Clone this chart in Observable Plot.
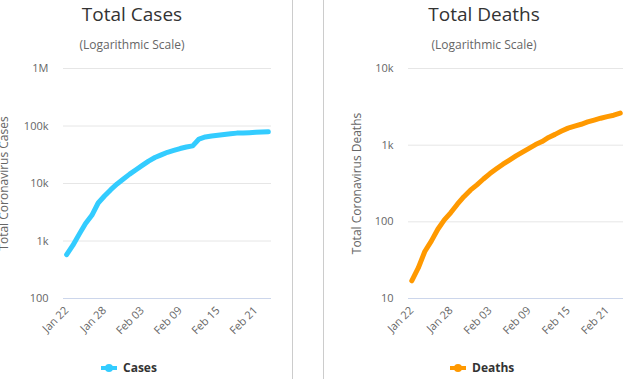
<!DOCTYPE html>
<html>
<head>
<meta charset="utf-8">
<script src="https://cdn.jsdelivr.net/npm/d3@7"></script>
<script src="https://cdn.jsdelivr.net/npm/@observablehq/plot@0.6"></script>
<style>
  html, body { margin: 0; padding: 0; background: #fff; }
  #wrap { position: relative; width: 628px; height: 379px; overflow: hidden; font-family: "Open Sans", "Noto Sans", sans-serif; }
  .panel { position: absolute; top: 0; }
  .title { position: absolute; width: 240px; text-align: center; font-size: 19px; line-height: 1; color: #333; white-space: nowrap; }
  .subtitle { position: absolute; width: 240px; text-align: center; font-size: 12px; line-height: 1; color: #666; white-space: nowrap; }
  .legend { position: absolute; font-size: 12px; font-weight: bold; color: #333; line-height: 1; white-space: nowrap; display: flex; align-items: center; }
  .legend svg { margin-right: 6px; }
  .sep { position: absolute; top: 0; width: 1px; height: 379px; background: #cccccc; }
</style>
</head>
<body>
<div id="wrap">
  <div class="sep" style="left:292px"></div>
  <div class="sep" style="left:323px"></div>
  <div class="title" style="left:12px; top:5px">Total Cases</div>
  <div class="subtitle" style="left:12px; top:39px">(Logarithmic Scale)</div>
  <div class="title" style="left:364px; top:5px">Total Deaths</div>
  <div class="subtitle" style="left:364px; top:39px">(Logarithmic Scale)</div>
  <div id="left" class="panel" style="left:0px"></div>
  <div id="right" class="panel" style="left:323px"></div>
  <div id="legL" class="legend" style="left:101px; top:362px"></div>
  <div id="legR" class="legend" style="left:450px; top:362px"></div>
</div>
<script>
const dates = ["2020-01-22","2020-01-23","2020-01-24","2020-01-25","2020-01-26","2020-01-27","2020-01-28",
  "2020-01-29","2020-01-30","2020-01-31","2020-02-01","2020-02-02","2020-02-03","2020-02-04","2020-02-05",
  "2020-02-06","2020-02-07","2020-02-08","2020-02-09","2020-02-10","2020-02-11","2020-02-12","2020-02-13",
  "2020-02-14","2020-02-15","2020-02-16","2020-02-17","2020-02-18","2020-02-19","2020-02-20","2020-02-21",
  "2020-02-22","2020-02-23"];
const cases = [580, 845, 1317, 2015, 2800, 4581, 6058, 7813, 9821, 11948, 14551, 17389, 20628, 24553, 28276,
  31439, 34876, 37552, 40553, 43099, 45134, 59287, 64438, 67100, 69197, 71329, 73332, 75184, 75700, 76677, 77673,
  78651, 79205];
const deaths = [17, 25, 41, 56, 80, 106, 132, 170, 213, 259, 304, 362, 426, 492, 565, 638, 724, 813, 910, 1018,
  1115, 1261, 1383, 1526, 1669, 1775, 1873, 2009, 2126, 2247, 2360, 2460, 2618];
const xTickDates = ["2020-01-22","2020-01-28","2020-02-03","2020-02-09","2020-02-15","2020-02-21"];
const xTickLabels = ["Jan 22","Jan 28","Feb 03","Feb 09","Feb 15","Feb 21"];
const casesTicks = [100, 1000, 10000, 100000, 1000000];
const casesTickLabels = ["100","1k","10k","100k","1M"];
const deathsTicks = [10, 100, 1000, 10000];
const deathsTickLabels = ["10","100","1k","10k"];
const seriesNames = ["Cases", "Deaths"];
const seriesColors = ["#33ccff", "#ff9900"];
const yTitles = ["Total Coronavirus Cases", "Total Coronavirus Deaths"];

const FONT = '"Open Sans", "Noto Sans", sans-serif';
const xt = xTickDates.map(d => new Date(d + "T00:00Z"));

function chart({values, color, ticks, tickLabels, width, marginLeft, marginRight, yTitle, titleDx}) {
  const data = dates.map((d, i) => ({date: new Date(d + "T00:00Z"), value: values[i]}));
  const fmtMap = new Map(ticks.map((t, i) => [t, tickLabels[i]]));
  const xfmt = new Map(xt.map((t, i) => [+t, xTickLabels[i]]));
  return Plot.plot({
    width, height: 340,
    marginTop: 68, marginBottom: 42, marginLeft, marginRight,
    style: {fontFamily: FONT, fontSize: "11px", color: "#666", background: "transparent", overflow: "visible"},
    x: {type: "utc", domain: [new Date("2020-01-21T12:00Z"), new Date("2020-02-23T12:00Z")],
        ticks: xt, tickFormat: d => xfmt.get(+d), tickRotate: -45, tickSize: 0, tickPadding: 10, label: null},
    y: {type: "log", domain: [ticks[0], ticks[ticks.length - 1]], ticks, tickFormat: d => fmtMap.get(d),
        tickSize: 0, tickPadding: 15, label: null},
    marks: [
      Plot.ruleY(ticks.slice(1), {stroke: "#e6e6e6", strokeWidth: 1}),
      Plot.ruleY([ticks[0]], {stroke: "#ccd6eb", strokeWidth: 1}),
      Plot.line(data, {x: "date", y: "value", stroke: color, strokeWidth: 5, strokeLinejoin: "round", strokeLinecap: "round"}),
      Plot.text([yTitle], {frameAnchor: "left", rotate: -90, dx: titleDx, textAnchor: "middle", lineAnchor: "middle",
        fill: "#666", fontSize: 12})
    ]
  });
}

document.getElementById("left").append(chart({
  values: cases, color: seriesColors[0], ticks: casesTicks, tickLabels: casesTickLabels,
  width: 292, marginLeft: 63, marginRight: 21, yTitle: yTitles[0], titleDx: -59
}));
document.getElementById("right").append(chart({
  values: deaths, color: seriesColors[1], ticks: deathsTicks, tickLabels: deathsTickLabels,
  width: 305, marginLeft: 85, marginRight: 5, yTitle: yTitles[1], titleDx: -51
}));

function legend(el, name, color) {
  el.innerHTML = `<svg width="16" height="10"><line x1="0" y1="5" x2="16" y2="5" stroke="${color}" stroke-width="4"/><circle cx="8" cy="5" r="4" fill="${color}"/></svg><span>${name}</span>`;
}
legend(document.getElementById("legL"), seriesNames[0], seriesColors[0]);
legend(document.getElementById("legR"), seriesNames[1], seriesColors[1]);
</script>
</body>
</html>
